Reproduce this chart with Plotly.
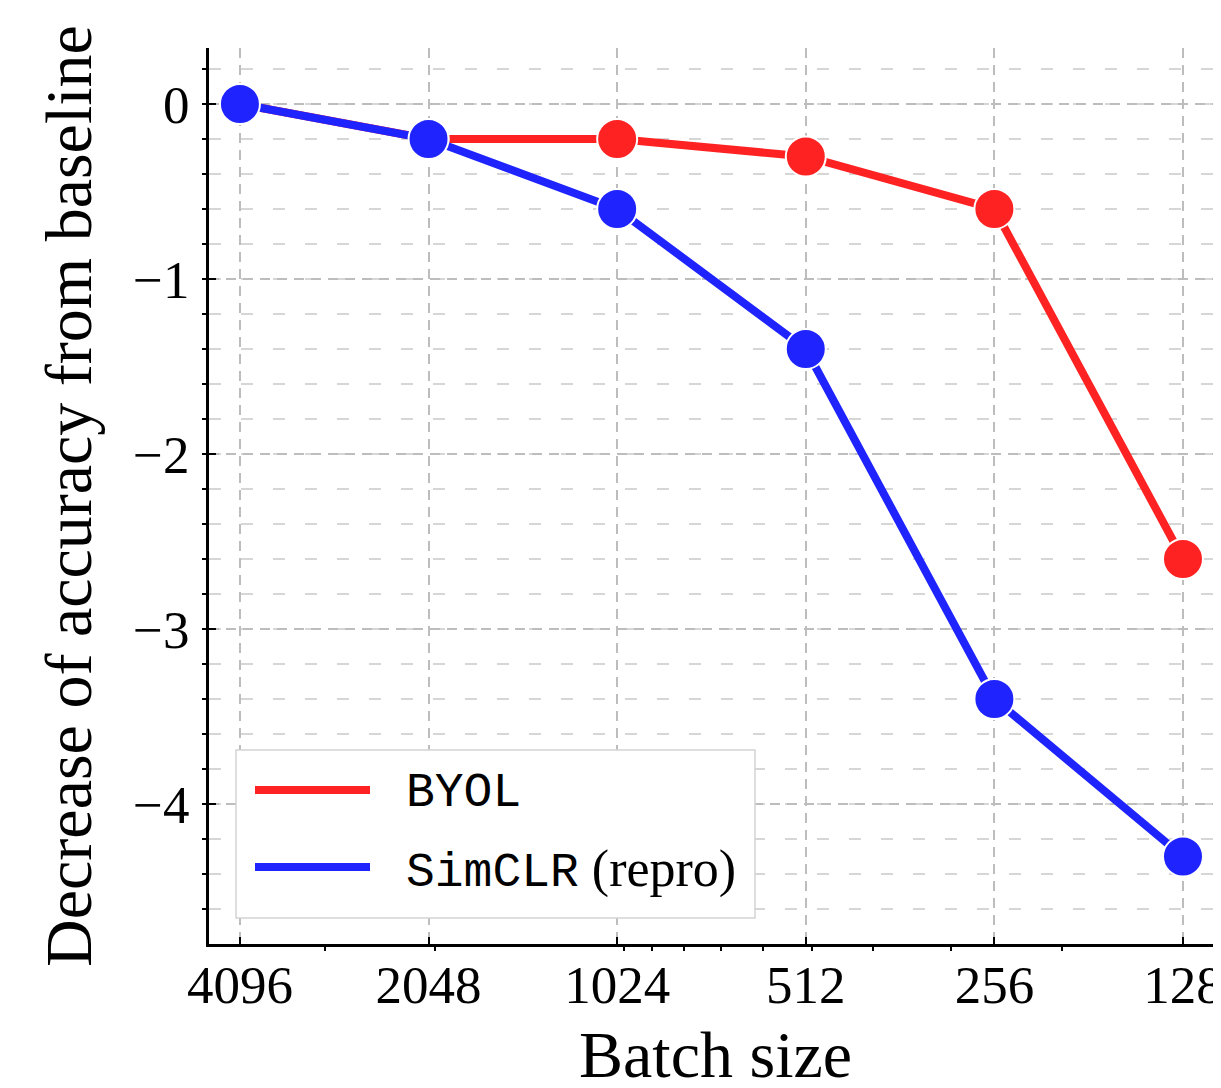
import math
import plotly.graph_objects as go

batch_sizes = [4096, 2048, 1024, 512, 256, 128]
byol = [0.0, -0.2, -0.2, -0.3, -0.6, -2.6]
simclr = [0.0, -0.2, -0.6, -1.4, -3.4, -4.3]
series_names = ["BYOL", "SimCLR"]
series_suffix = ["", " (repro)"]
x_title = "Batch size"
y_title = "Decrease of accuracy from baseline"
x_tick_labels = ["4096", "2048", "1024", "512", "256", "128"]
x_minor_ticks = [3000, 2000, 1000, 900, 800, 700, 600, 500, 400, 300, 200]
y_tick_vals = [0, -1, -2, -3, -4]
y_tick_labels = ["0", "\u22121", "\u22122", "\u22123", "\u22124"]

RED = "#ff2222"
BLUE = "#1f24ff"
SERIF = "Liberation Serif, Times New Roman, serif"

# page body has an 8px margin; figure is placed at (8, 8)
OFF = 8
W, H = 1213, 1072
ML, MR, MT, MB = 209 - OFF, 0, 48 - OFF, H - (944 - OFF)
PW, PH = W - ML - MR, H - MT - MB


def px(xp):  # page x -> paper
    return (xp - OFF - ML) / PW


def py(yp):  # page y -> paper
    return (H - MB - (yp - OFF)) / PH


fig = go.Figure()
colors = [RED, BLUE]
for name, ys, col in zip(series_names, [byol, simclr], colors):
    fig.add_trace(go.Scatter(
        x=batch_sizes, y=ys, mode="lines", name=name,
        line=dict(color=col, width=8), showlegend=False,
    ))
    fig.add_trace(go.Scatter(
        x=batch_sizes, y=ys, mode="markers", showlegend=False, name=name,
        marker=dict(color=col, size=40, line=dict(color="white", width=2)),
    ))

# legend drawn as a framed box with line samples
shapes = [dict(type="rect", xref="paper", yref="paper",
               x0=px(236), x1=px(755), y0=py(918), y1=py(750),
               line=dict(color="#d4d4d4", width=1.5), fillcolor="white", layer="above")]
annotations = []
legend_rows = [790, 867]
for i, (name, suf, col) in enumerate(zip(series_names, series_suffix, colors)):
    yy = legend_rows[i]
    shapes.append(dict(type="line", xref="paper", yref="paper",
                       x0=px(255), x1=px(370), y0=py(yy), y1=py(yy),
                       line=dict(color=col, width=8), layer="above"))
    txt = f"<span style='font-family:Liberation Mono'>{name}</span>"
    if suf:
        txt += f"<span style='font-size:52px'>{suf}</span>"
    annotations.append(dict(xref="paper", yref="paper", x=px(404), y=py(yy + 3),
                            xanchor="left", yanchor="middle", text=txt, showarrow=False,
                            font=dict(size=48, family=SERIF, color="black")))

# x-axis title placed close to the bottom edge as in the reference
annotations.append(dict(xref="paper", yref="paper", x=0.5, y=py(1054),
                        xanchor="center", yanchor="middle", text=x_title, showarrow=False,
                        font=dict(size=66, family=SERIF, color="black")))

l2 = math.log10(2)
xr = [math.log10(4096) + 0.164 * l2, math.log10(128) - 0.2015 * l2]

fig.update_layout(
    width=W, height=H,
    margin=dict(l=ML, r=MR, t=MT, b=MB, autoexpand=False),
    paper_bgcolor="white", plot_bgcolor="white",
    font=dict(family=SERIF, size=52, color="black"),
    shapes=shapes, annotations=annotations,
    showlegend=False,
    xaxis=dict(
        type="log", range=xr, autorange=False, automargin=False,
        tickmode="array", tickvals=batch_sizes, ticktext=x_tick_labels,
        ticks="inside", ticklen=7, tickwidth=2, tickcolor="black",
        ticklabelstandoff=-8, ticklabeloverflow="allow",
        showline=True, linecolor="black", linewidth=3,
        showgrid=True, gridcolor="#bdbdbd", gridwidth=2, griddash="10px,7px",
        zeroline=False,
        minor=dict(tickmode="array", tickvals=x_minor_ticks, ticks="outside",
                   ticklen=4, tickwidth=1.5, tickcolor="black", showgrid=False),
        tickfont=dict(size=53, family=SERIF),
    ),
    yaxis=dict(
        range=[-4.8, 0.32], autorange=False, automargin=False,
        tickmode="array", tickvals=y_tick_vals, ticktext=y_tick_labels,
        ticks="inside", ticklen=7, tickwidth=2, tickcolor="black",
        ticklabelstandoff=6,
        showline=True, linecolor="black", linewidth=3,
        showgrid=True, gridcolor="#bdbdbd", gridwidth=2, griddash="10px,7px",
        zeroline=False,
        minor=dict(dtick=0.2, tick0=0, ticks="outside", ticklen=4, tickwidth=1.5,
                   tickcolor="black", showgrid=True, gridcolor="#d6d6d6",
                   gridwidth=2, griddash="12px,20px"),
        title=dict(text=y_title, font=dict(size=66, family=SERIF), standoff=20),
        tickfont=dict(size=53, family=SERIF),
    ),
)

fig.write_html("out.html")
